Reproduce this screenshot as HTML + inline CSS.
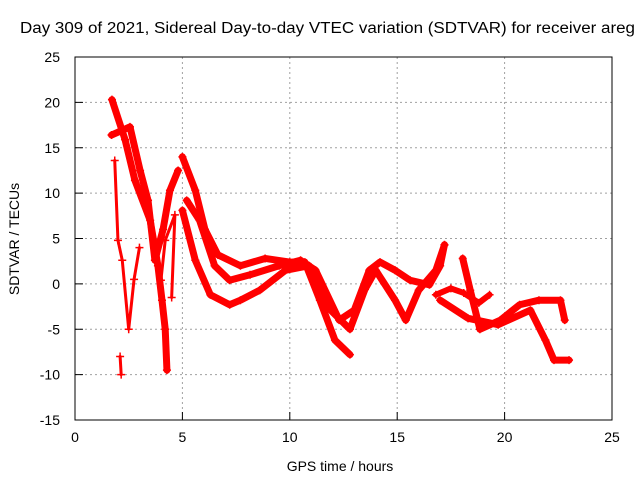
<!DOCTYPE html>
<html><head><meta charset="utf-8"><style>
body{margin:0;background:#fff}
svg text{font-family:"Liberation Sans",sans-serif;font-size:14px;fill:#000}
</style></head><body>
<svg id="chart" width="640" height="480" xmlns="http://www.w3.org/2000/svg">
<text x="20" y="33" textLength="615" lengthAdjust="spacingAndGlyphs" style="font-size:15.5px">Day 309 of 2021, Sidereal Day-to-day VTEC variation (SDTVAR) for receiver areg</text>
<text transform="translate(19,239) rotate(-90)" text-anchor="middle">SDTVAR / TECUs</text>
<text x="340" y="471" text-anchor="middle">GPS time / hours</text>
<g id="grid"></g><g id="marks"></g>
<rect x="75" y="57" width="537" height="363" fill="none" stroke="#000" stroke-width="1"/>
</svg>
<script>
const xTicks=[0,5,10,15,20,25];
const yTicks=[25,20,15,10,5,0,-5,-10,-15];
const traceA_t=[1.72,2.33,2.79,3.5,3.86,4.05,4.2,4.28];
const traceA_v=[20.3,15.9,11.4,7,2,-1.8,-5,-9.5];
const traceB_t=[1.7,2.56,3.03,3.4,3.72,4.1,4.42,4.8];
const traceB_v=[16.4,17.3,12.5,9.2,2.6,6,10.3,12.5];
const traceC_t=[5,5.6,6.05,6.65,7.7,8.85,10,10.7,11.4,12.1,12.8];
const traceC_v=[14,10.3,6,3.2,2,2.8,2.4,2.4,-1.8,-6.2,-7.8];
const traceD_t=[5.2,5.8,6.5,7.2,8.15,9.5,10.5,11.2,12.3,13,13.7,14.2,14.9,15.6,16.5,17,17.2];
const traceD_v=[9.2,7,2,0.4,1,2,2.6,1.5,-4,-2.9,1.5,2.4,1.5,0.4,-0.1,2,4.3];
const traceE_t=[5,5.6,6.3,7.2,7.7,8.6,9.8,10.9,11.9,12.8,13.5,14,14.9,15.4,16,16.8,17.2];
const traceE_v=[8.1,2.6,-1.2,-2.3,-1.8,-0.7,1.5,2,-2.9,-5,-0.6,1.5,-1.8,-4,-0.7,1.5,4.3];
const traceF_t=[16.8,17.5,18.1,18.8,19.3];
const traceF_v=[-1.2,-0.5,-1,-2.1,-1.2];
const traceG_t=[18.05,18.4,18.85,19.8,20.7,21.6,22.6,22.8];
const traceG_v=[2.8,-0.7,-5,-4,-2.3,-1.8,-1.8,-4];
const traceH_t=[17,18.3,19.7,21.2,21.9,22.3,23];
const traceH_v=[-1.8,-3.8,-4.5,-2.9,-6.2,-8.4,-8.4];
const traceI_t=[1.85,2,2.2,2.5,2.75,3];
const traceI_v=[13.6,4.8,2.6,-5,0.5,4];
const traceJ_t=[2.1,2.15];
const traceJ_v=[-8,-10];
const traceK_t=[4,4.2,4.65,4.5];
const traceK_v=[0.4,4.8,7.6,-1.5];
const traces=[[traceA_t,traceA_v,7],[traceB_t,traceB_v,7],[traceC_t,traceC_v,7],[traceD_t,traceD_v,7],[traceE_t,traceE_v,7],[traceF_t,traceF_v,6],[traceG_t,traceG_v,7],[traceH_t,traceH_v,7],[traceI_t,traceI_v,3],[traceJ_t,traceJ_v,3],[traceK_t,traceK_v,3]];
const X=t=>75+t*537/25, Y=v=>57+(25-v)*363/40;
const NS="http://www.w3.org/2000/svg";
const grid=document.getElementById('grid'),marks=document.getElementById('marks'),svg=document.getElementById('chart');
function mk(tag,at,par){const e=document.createElementNS(NS,tag);for(const k in at)e.setAttribute(k,at[k]);par.appendChild(e);return e;}
xTicks.forEach(t=>{
 if(t>0&&t<25){const g=mk('line',{x1:X(t),x2:X(t),y1:57,y2:420,stroke:'#a0a0a0','stroke-dasharray':'2,3'},grid);
 
 }
 const l=mk('text',{x:X(t),y:442,'text-anchor':'middle'},svg);l.textContent=t;
 
 
 mk('line',{x1:X(t),x2:X(t),y1:420,y2:412,stroke:'#000'},svg);
});
yTicks.forEach(v=>{
 if(v<25&&v>-15){const g=mk('line',{x1:75,x2:612,y1:Y(v),y2:Y(v),stroke:'#a0a0a0','stroke-dasharray':'2,3'},grid);
 
 }
 const l=mk('text',{x:60,y:Y(v)+5,'text-anchor':'end'},svg);l.textContent=v;
 
 
 mk('line',{x1:75,x2:83,y1:Y(v),y2:Y(v),stroke:'#000'},svg);
});
traces.forEach(([ts,vs,w],i)=>{
 const p=mk('polyline',{points:ts.map((t,j)=>X(t)+','+Y(vs[j])).join(' '),fill:'none',stroke:'#f00','stroke-width':w,'stroke-linejoin':'round','stroke-linecap':'round'},marks);
 
 
 ts.forEach((t,j)=>{
  const m=mk('path',{d:`M${X(t)-4},${Y(vs[j])}h8M${X(t)},${Y(vs[j])-4}v8`,stroke:'#f00','stroke-width':1.5},marks);
  
  
 });
});
</script>
</body></html>
